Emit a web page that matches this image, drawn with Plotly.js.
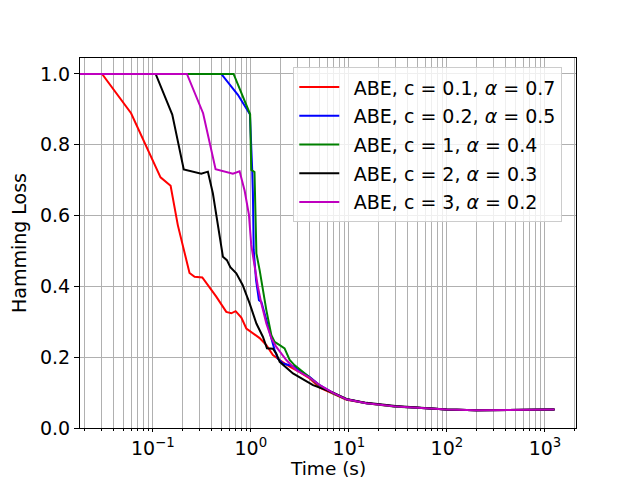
<!DOCTYPE html>
<html>
<head>
<meta charset="utf-8">
<script src="https://cdn.plot.ly/plotly-3.0.1.min.js"></script>
<style>html,body{margin:0;padding:0;background:#fff;}#chart{width:640px;height:480px;}</style>
</head>
<body>
<div id="chart"></div>
<script>
// Series: time (s) and Hamming loss
var redT = [0.018, 0.0304, 0.0601, 0.120, 0.152, 0.180, 0.237, 0.267, 0.320, 0.365, 0.444, 0.562, 0.632, 0.700, 0.800, 0.900, 1.05, 1.23, 1.44, 1.68, 1.97, 2.49, 3.15, 3.99, 5.04, 6.90, 9.46, 15.1, 20.7, 30, 50, 75, 100, 200, 500, 1000, 1250];
var redV = [1.0, 1.0, 0.889, 0.708, 0.684, 0.573, 0.438, 0.427, 0.425, 0.404, 0.371, 0.328, 0.324, 0.330, 0.312, 0.281, 0.267, 0.254, 0.234, 0.206, 0.192, 0.173, 0.158, 0.140, 0.114, 0.097, 0.080, 0.070, 0.066, 0.061, 0.057, 0.054, 0.052, 0.050, 0.050, 0.051, 0.052];

var blueT = [0.018, 0.500, 0.738, 0.979, 1.035, 1.05, 1.07, 1.13, 1.21, 1.28, 1.38, 1.56, 1.75, 1.89, 2.13, 2.49, 2.80, 3.15, 3.99, 5.04, 6.90, 9.46, 15.1, 20.7, 30, 50, 75, 100, 200, 500, 1000, 1250];
var blueV = [1.0, 1.0, 0.941, 0.886, 0.723, 0.663, 0.503, 0.418, 0.361, 0.356, 0.324, 0.267, 0.220, 0.196, 0.182, 0.177, 0.173, 0.163, 0.144, 0.121, 0.099, 0.081, 0.070, 0.066, 0.061, 0.057, 0.054, 0.052, 0.050, 0.050, 0.051, 0.052];

var greenT = [0.018, 0.667, 0.984, 1.01, 1.09, 1.14, 1.23, 1.33, 1.44, 1.62, 1.75, 1.97, 2.21, 2.49, 2.80, 3.15, 3.99, 5.04, 6.90, 9.46, 15.1, 20.7, 30, 50, 75, 100, 200, 500, 1000, 1250];
var greenV = [1.0, 1.0, 0.886, 0.729, 0.723, 0.493, 0.446, 0.390, 0.333, 0.262, 0.243, 0.234, 0.225, 0.192, 0.177, 0.166, 0.143, 0.119, 0.098, 0.081, 0.070, 0.066, 0.060, 0.057, 0.054, 0.052, 0.050, 0.050, 0.051, 0.052];

var blackT = [0.018, 0.107, 0.158, 0.207, 0.312, 0.365, 0.410, 0.519, 0.570, 0.618, 0.711, 0.825, 0.972, 1.14, 1.33, 1.46, 1.68, 1.82, 1.97, 2.69, 4.31, 6.90, 9.46, 15.1, 20.7, 30, 50, 75, 100, 200, 500, 1000, 1250];
var blackV = [1.0, 1.0, 0.885, 0.730, 0.718, 0.724, 0.663, 0.484, 0.474, 0.454, 0.437, 0.404, 0.352, 0.295, 0.257, 0.225, 0.224, 0.210, 0.187, 0.154, 0.121, 0.100, 0.082, 0.071, 0.067, 0.062, 0.058, 0.054, 0.052, 0.050, 0.050, 0.051, 0.052];

var magentaT = [0.018, 0.223, 0.326, 0.437, 0.656, 0.768, 0.865, 0.957, 1.01, 1.09, 1.18, 1.28, 1.44, 1.62, 1.82, 2.30, 2.92, 3.99, 5.04, 6.90, 9.46, 15.1, 20.7, 30, 50, 75, 100, 200, 500, 1000, 1250];
var magentaV = [1.0, 1.0, 0.889, 0.731, 0.718, 0.725, 0.670, 0.602, 0.517, 0.452, 0.399, 0.352, 0.295, 0.253, 0.229, 0.192, 0.163, 0.142, 0.121, 0.099, 0.081, 0.070, 0.066, 0.061, 0.057, 0.054, 0.052, 0.050, 0.050, 0.051, 0.052];

var seriesNames = ["ABE, c = 0.1, <i>α</i> = 0.7", "ABE, c = 0.2, <i>α</i> = 0.5", "ABE, c = 1, <i>α</i> = 0.4", "ABE, c = 2, <i>α</i> = 0.3", "ABE, c = 3, <i>α</i> = 0.2"];
var seriesColors = ["#ff0000", "#0000ff", "#008000", "#000000", "#bf00bf"];

var xTickVals = [0.1, 1, 10, 100, 1000];
var xTickText = ["10<sup>−1</sup>", "10<sup>0</sup>", "10<sup>1</sup>", "10<sup>2</sup>", "10<sup>3</sup>"];
var yTickVals = [0, 0.2, 0.4, 0.6, 0.8, 1.0];
var xTitle = "Time (s)";
var yTitle = "Hamming Loss";

var minorVals = [];
[0.01, 0.1, 1, 10, 100, 1000].forEach(function (d) {
  for (var k = 2; k <= 9; k++) minorVals.push(d * k);
});

var xs = [redT, blueT, greenT, blackT, magentaT];
var ys = [redV, blueV, greenV, blackV, magentaV];
var traces = xs.map(function (x, i) {
  return {
    x: x, y: ys[i], type: "scatter", mode: "lines",
    name: "\u2002" + seriesNames[i], legendgroup: "g" + i,
    line: {color: seriesColors[i], width: 2}
  };
});

var font = {family: "DejaVu Sans, sans-serif", size: 19, color: "#000"};
var layout = {
  width: 640, height: 480,
  margin: {l: 80, r: 64, t: 58, b: 52},
  paper_bgcolor: "#fff", plot_bgcolor: "#fff",
  font: font,
  showlegend: true,
  legend: {
    x: 0.43, y: 0.975, xanchor: "left", yanchor: "top",
    bgcolor: "rgba(255,255,255,0.8)", bordercolor: "#cccccc", borderwidth: 1,
    font: {family: "DejaVu Sans, sans-serif", size: 19, color: "#000"},
    traceorder: "grouped", tracegroupgap: 1, itemwidth: 40
  },
  annotations: [{
    text: xTitle, xref: "paper", yref: "paper", x: 0.5, y: -0.1395,
    xanchor: "center", yanchor: "bottom", showarrow: false,
    font: {family: "DejaVu Sans, sans-serif", size: 18.5, color: "#000"}, borderpad: 0
  }],
  xaxis: {
    type: "log", range: [Math.log10(0.0181), Math.log10(2073)],
    tickmode: "array", tickvals: xTickVals, ticktext: xTickText,
    ticks: "outside", ticklen: 3, tickcolor: "#000",
    showgrid: true, gridcolor: "#b0b0b0", gridwidth: 1,
    minor: {tickmode: "array", tickvals: minorVals, ticks: "outside", ticklen: 2, tickcolor: "#000", showgrid: true, gridcolor: "#b0b0b0", gridwidth: 1},
    showline: true, linecolor: "#000", linewidth: 1, mirror: true,
    zeroline: false
  },
  yaxis: {
    range: [0, 1.045],
    tickmode: "array", tickvals: yTickVals, tickformat: ".1f",
    ticks: "outside", ticklen: 5, tickcolor: "#000",
    showgrid: true, gridcolor: "#b0b0b0", gridwidth: 1,
    showline: true, linecolor: "#000", linewidth: 1, mirror: true,
    zeroline: false,
    title: {text: yTitle, font: font, standoff: 8}
  }
};

Plotly.newPlot("chart", traces, layout, {displayModeBar: false, staticPlot: true});
</script>
</body>
</html>
